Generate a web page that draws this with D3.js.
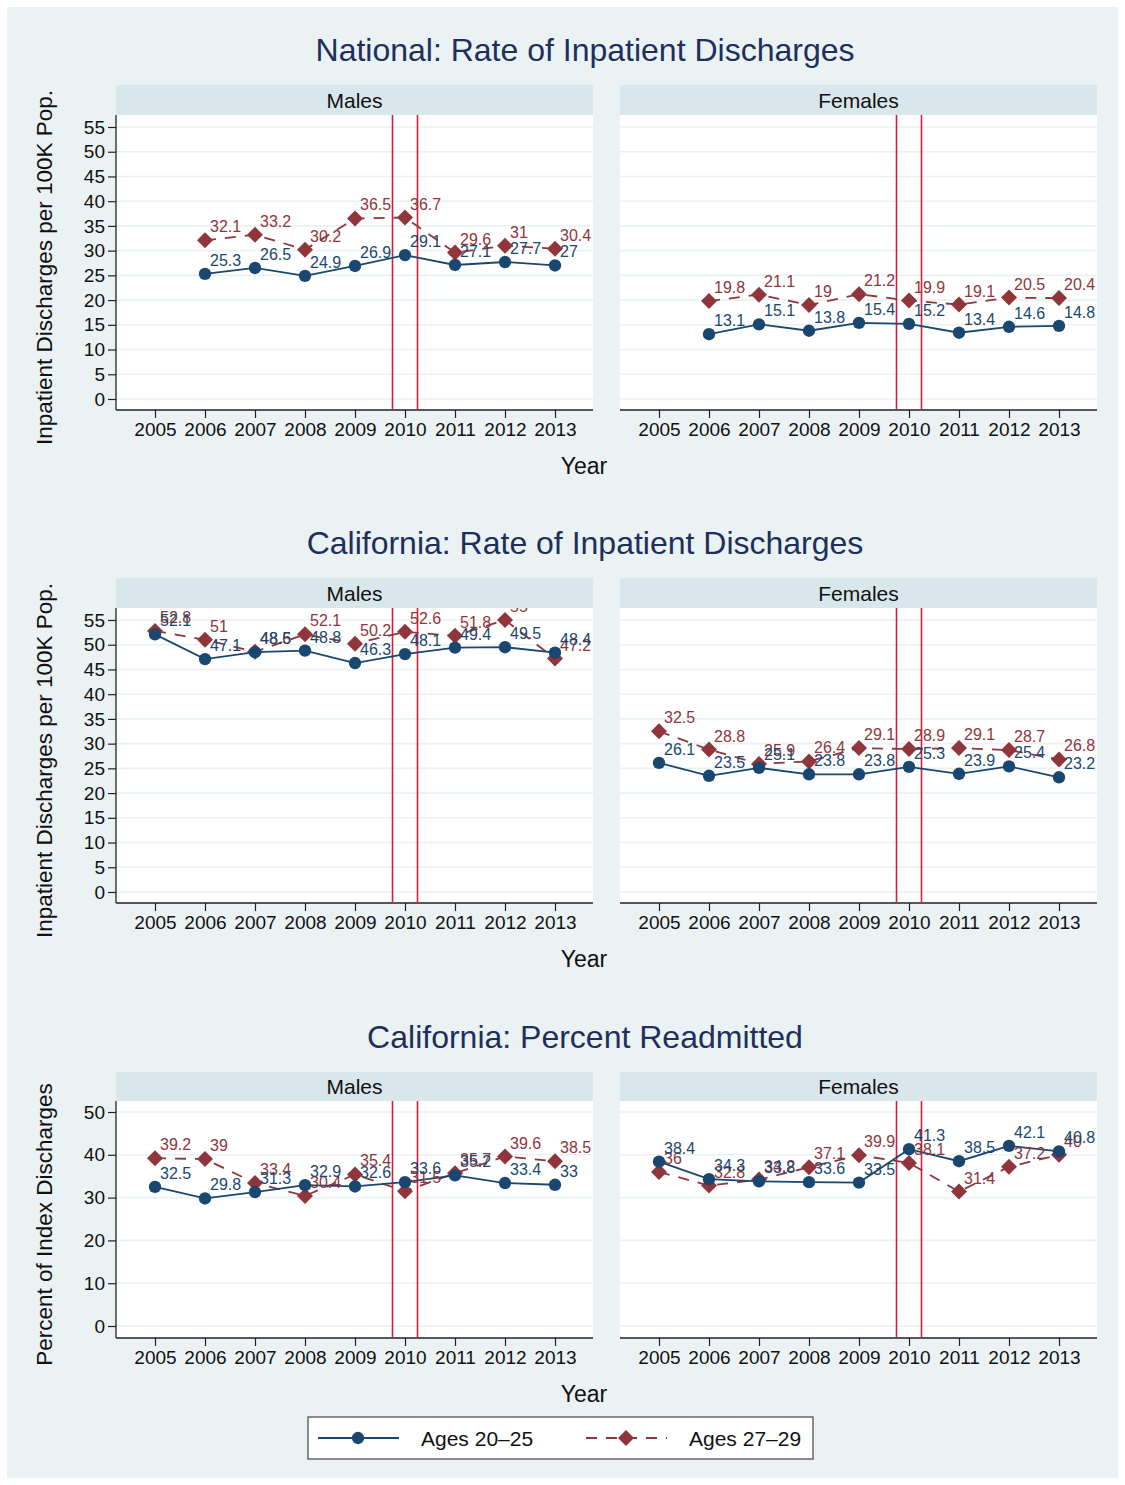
<!DOCTYPE html>
<html>
<head>
<meta charset="utf-8">
<script src="https://cdn.jsdelivr.net/npm/d3@7"></script>
<style>
  html, body { margin: 0; padding: 0; background: #ffffff; }
  svg text { font-family: "Liberation Sans", Arial, Helvetica, sans-serif; }
</style>
</head>
<body>
<svg id="chart" width="1125" height="1485"></svg>
<script>
// Years on the x axis
const years = [2005, 2006, 2007, 2008, 2009, 2010, 2011, 2012, 2013];
const seriesNames = ["Ages 20\u201325", "Ages 27\u201329"];

// National rate of inpatient discharges per 100K (no 2005 value)
const natMalesYoung   = [null, 25.3, 26.5, 24.9, 26.9, 29.1, 27.1, 27.7, 27];
const natMalesOld     = [null, 32.1, 33.2, 30.2, 36.5, 36.7, 29.6, 31, 30.4];
const natFemalesYoung = [null, 13.1, 15.1, 13.8, 15.4, 15.2, 13.4, 14.6, 14.8];
const natFemalesOld   = [null, 19.8, 21.1, 19, 21.2, 19.9, 19.1, 20.5, 20.4];

// California rate of inpatient discharges per 100K
const caMalesYoung   = [52.1, 47.1, 48.5, 48.8, 46.3, 48.1, 49.4, 49.5, 48.4];
const caMalesOld     = [52.8, 51, 48.6, 52.1, 50.2, 52.6, 51.8, 55, 47.2];
const caFemalesYoung = [26.1, 23.5, 25.1, 23.8, 23.8, 25.3, 23.9, 25.4, 23.2];
const caFemalesOld   = [32.5, 28.8, 25.9, 26.4, 29.1, 28.9, 29.1, 28.7, 26.8];

// California percent readmitted
const rdMalesYoung   = [32.5, 29.8, 31.3, 32.9, 32.6, 33.6, 35.2, 33.4, 33];
const rdMalesOld     = [39.2, 39, 33.4, 30.4, 35.4, 31.5, 35.7, 39.6, 38.5];
const rdFemalesYoung = [38.4, 34.3, 33.8, 33.6, 33.5, 41.3, 38.5, 42.1, 40.8];
const rdFemalesOld   = [36, 32.8, 34.2, 37.1, 39.9, 38.1, 31.4, 37.2, 40];

// Axis ticks and reference lines
const rateTicks = [0, 5, 10, 15, 20, 25, 30, 35, 40, 45, 50, 55];
const pctTicks = [0, 10, 20, 30, 40, 50];
const refLines = [2009.75, 2010.25];

const rowTitles = ["National: Rate of Inpatient Discharges",
                   "California: Rate of Inpatient Discharges",
                   "California: Percent Readmitted"];
const yTitles = ["Inpatient Discharges per 100K Pop.",
                 "Inpatient Discharges per 100K Pop.",
                 "Percent of Index Discharges"];
const panelNames = ["Males", "Females"];

const C = {
  navy: "#1a476f",
  maroon: "#90353b",
  ref: "#d31f3f",
  outer: "#eaf2f3",
  strip: "#d9e6eb",
  grid: "#eaf2f3",
  title: "#1e2f5c",
  axis: "#222222"
};

const rows = [
  { top: 85, stripH: 30, plotBottom: 410, yHi: 127, yLo: 399, domain: [0, 55], ticks: rateTicks,
    series: [[natMalesYoung, natMalesOld], [natFemalesYoung, natFemalesOld]] },
  { top: 578, stripH: 30, plotBottom: 903, yHi: 620, yLo: 892, domain: [0, 55], ticks: rateTicks,
    series: [[caMalesYoung, caMalesOld], [caFemalesYoung, caFemalesOld]] },
  { top: 1072, stripH: 29, plotBottom: 1338, yHi: 1112, yLo: 1326, domain: [0, 50], ticks: pctTicks,
    series: [[rdMalesYoung, rdMalesOld], [rdFemalesYoung, rdFemalesOld]] }
];
const panelX = [116, 620];
const panelW = 477;

const svg = d3.select("#chart");
svg.append("rect").attr("x", 7).attr("y", 7).attr("width", 1111).attr("height", 1471).attr("fill", C.outer);

// Square diamond (rotated square) and filled circle markers
const diamond = () => "M0,-8L8,0L0,8L-8,0Z";
const circle = d3.symbol().type(d3.symbolCircle).size(120);

rows.forEach((row, ri) => {
  // Row title
  svg.append("text").attr("x", 585).attr("y", row.top - 24)
    .attr("text-anchor", "middle").attr("font-size", 32).attr("fill", C.title)
    .text(rowTitles[ri]);

  const plotTop = row.top + row.stripH;
  const y = d3.scaleLinear().domain(row.domain).range([row.yLo, row.yHi]);

  // Y axis title
  const yc = (plotTop + row.plotBottom) / 2 + 5;
  svg.append("text").attr("transform", `translate(52,${yc}) rotate(-90)`)
    .attr("text-anchor", "middle").attr("font-size", 22.5).attr("fill", "#111")
    .text(yTitles[ri]);

  // X axis title
  svg.append("text").attr("x", 584).attr("y", row.plotBottom + 64)
    .attr("text-anchor", "middle").attr("font-size", 23).attr("fill", "#111")
    .text("Year");

  panelX.forEach((px, pi) => {
    const x = d3.scaleLinear().domain([2005, 2013]).range([px + 39, px + 439]);
    const g = svg.append("g");

    // Plot region
    g.append("rect").attr("x", px).attr("y", plotTop).attr("width", panelW)
      .attr("height", row.plotBottom - plotTop).attr("fill", "#ffffff");

    // Gridlines
    g.selectAll(".grid").data(row.ticks).join("line")
      .attr("x1", px).attr("x2", px + panelW)
      .attr("y1", d => y(d)).attr("y2", d => y(d))
      .attr("stroke", C.grid).attr("stroke-width", 1.6);

    // Y axis on the left column only
    if (pi === 0) {
      const yAxis = d3.axisLeft(y).tickValues(row.ticks).tickSize(8).tickPadding(3).tickFormat(d3.format("d"));
      const ga = g.append("g").attr("transform", `translate(${px},0)`).call(yAxis);
      ga.select(".domain").attr("d", `M0,${plotTop}V${row.plotBottom}`).attr("stroke", C.axis).attr("stroke-width", 1.3);
      ga.selectAll(".tick line").attr("stroke", C.axis).attr("stroke-width", 1.2);
      ga.selectAll(".tick text").attr("font-size", 19).attr("fill", "#111")
        .style("font-family", "'Liberation Sans', Arial, sans-serif");
    }

    // X axis
    const xAxis = d3.axisBottom(x).tickValues(years).tickSize(8).tickPadding(5).tickFormat(d3.format("d"));
    const gx = g.append("g").attr("transform", `translate(0,${row.plotBottom})`).call(xAxis);
    gx.select(".domain").attr("d", `M${px},0H${px + panelW}`).attr("stroke", C.axis).attr("stroke-width", 1.3);
    gx.selectAll(".tick line").attr("stroke", C.axis).attr("stroke-width", 1.2);
    gx.selectAll(".tick text").attr("font-size", 19).attr("fill", "#111")
      .style("font-family", "'Liberation Sans', Arial, sans-serif");

    // Reference lines around 2010
    g.selectAll(".ref").data(refLines).join("line")
      .attr("x1", d => x(d)).attr("x2", d => x(d))
      .attr("y1", plotTop).attr("y2", row.plotBottom)
      .attr("stroke", C.ref).attr("stroke-width", 1.6);

    const [young, old] = row.series[pi];
    const pts = arr => years.map((yr, i) => ({ yr, v: arr[i] })).filter(d => d.v !== null);
    const line = d3.line().x(d => x(d.yr)).y(d => y(d.v));

    // Ages 27-29: dashed maroon with diamonds
    const oldPts = pts(old);
    g.append("path").attr("d", line(oldPts)).attr("fill", "none")
      .attr("stroke", C.maroon).attr("stroke-width", 1.8).attr("stroke-dasharray", "11,9");
    g.selectAll(".dm").data(oldPts).join("path")
      .attr("d", diamond).attr("transform", d => `translate(${x(d.yr)},${y(d.v)})`)
      .attr("fill", C.maroon);

    // Ages 20-25: solid navy with circles
    const youngPts = pts(young);
    g.append("path").attr("d", line(youngPts)).attr("fill", "none")
      .attr("stroke", C.navy).attr("stroke-width", 1.8);
    g.selectAll(".cm").data(youngPts).join("path")
      .attr("d", circle).attr("transform", d => `translate(${x(d.yr)},${y(d.v)})`)
      .attr("fill", C.navy);

    // Value labels
    const labelLayer = g.append("g");
    const addLabels = (data, color) => {
      labelLayer.selectAll(null).data(data).join("text")
        .attr("x", d => x(d.yr) + 5).attr("y", d => y(d.v) - 8)
        .attr("font-size", 16).attr("fill", color)
        .text(d => String(d.v));
    };
    addLabels(oldPts, C.maroon);
    addLabels(youngPts, C.navy);

    // Strip header drawn last so it covers labels running above the plot
    g.append("rect").attr("x", px).attr("y", row.top).attr("width", panelW).attr("height", row.stripH)
      .attr("fill", C.strip);
    g.append("text").attr("x", px + panelW / 2).attr("y", row.top + row.stripH / 2 + 7.5)
      .attr("text-anchor", "middle").attr("font-size", 21).attr("fill", "#111")
      .text(panelNames[pi]);
  });
});

// Legend
const lg = svg.append("g");
lg.append("rect").attr("x", 308).attr("y", 1417).attr("width", 505).attr("height", 42)
  .attr("fill", "#ffffff").attr("stroke", "#444").attr("stroke-width", 1.2);
const legendItems = [
  { name: seriesNames[0], color: C.navy, dash: null, sym: circle, x0: 318, tx: 421 },
  { name: seriesNames[1], color: C.maroon, dash: "11,9", sym: diamond, x0: 586, tx: 689 }
];
legendItems.forEach(it => {
  const ly = 1438;
  lg.append("line").attr("x1", it.x0).attr("x2", it.x0 + 81).attr("y1", ly).attr("y2", ly)
    .attr("stroke", it.color).attr("stroke-width", 1.8)
    .attr("stroke-dasharray", it.dash);
  lg.append("path").attr("d", it.sym).attr("transform", `translate(${it.x0 + 40},${ly})`)
    .attr("fill", it.color);
  lg.append("text").attr("x", it.tx).attr("y", ly + 8).attr("font-size", 21).attr("fill", "#111")
    .text(it.name);
});
</script>
</body>
</html>
